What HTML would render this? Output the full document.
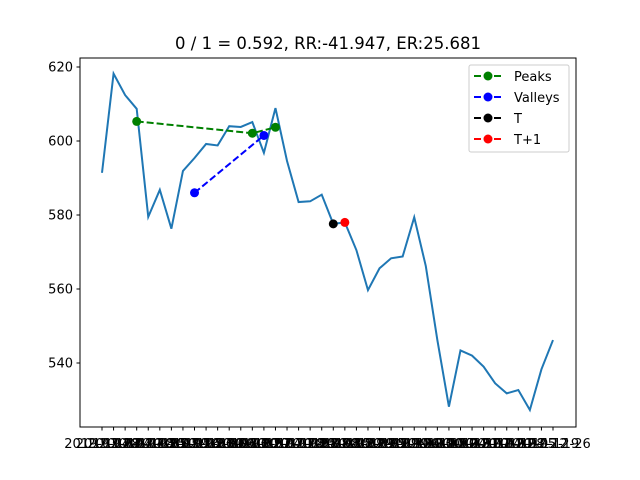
<!DOCTYPE html>
<html><head><meta charset="utf-8"><style>
html,body{margin:0;padding:0;background:#fff;}
svg{display:block;font-family:"DejaVu Sans","Liberation Sans",sans-serif;}
</style></head><body>
<svg id="chart" width="640" height="480" viewBox="0 0 640 480" xmlns="http://www.w3.org/2000/svg">
<text x="328" y="49" font-size="16.5" text-anchor="middle">0 / 1 = 0.592, RR:-41.947, ER:25.681</text>
<rect x="80" y="58" width="496" height="369" fill="none" stroke="#000" stroke-width="1"/>
<g id="yticks"></g>
<g id="xticks"></g>
<g id="series"></g>
<g>
<rect x="469" y="65" width="100" height="87" rx="2" fill="#fff" stroke="#ccc" stroke-width="1"/>
<g><line x1="474" y1="76" x2="502" y2="76" stroke="green" stroke-width="2" stroke-dasharray="7,3"/><circle cx="488" cy="76" r="4.5" fill="green"/><text x="514" y="81" font-size="13">Peaks</text></g>
<g><line x1="474" y1="97" x2="502" y2="97" stroke="blue" stroke-width="2" stroke-dasharray="7,3"/><circle cx="488" cy="97" r="4.5" fill="blue"/><text x="514" y="102" font-size="13">Valleys</text></g>
<g><line x1="474" y1="118" x2="502" y2="118" stroke="black" stroke-width="2" stroke-dasharray="7,3"/><circle cx="488" cy="118" r="4.5" fill="black"/><text x="514" y="123" font-size="13">T</text></g>
<g><line x1="474" y1="139" x2="502" y2="139" stroke="red" stroke-width="2" stroke-dasharray="7,3"/><circle cx="488" cy="139" r="4.5" fill="red"/><text x="514" y="144" font-size="13">T+1</text></g>
</g>
</svg>
<script>
const prices=[591.4,618.2,612.4,608.7,579.5,586.8,576.3,591.9,595.4,599.2,598.8,604.0,603.8,605.1,596.8,608.9,594.6,583.5,583.7,585.5,577.6,578.0,570.5,559.7,565.6,568.3,568.8,579.4,566.2,546.2,528.2,543.4,542.0,539.0,534.5,531.8,532.7,527.3,538.3,546.2];
const peakIdx=[3,13,15];
const peakVals=[605.3,602.1,603.7];
const valleyIdx=[8,14];
const valleyVals=[586.0,601.5];
const tIdx=[20];const tVals=[577.6];
const t1Idx=[21];const t1Vals=[578.0];
const yTicks=[540,560,580,600,620];
const start=new Date(Date.UTC(2019,2,28));
const dates=prices.map((_,i)=>{const d=new Date(start.getTime()+i*7*86400000);return d.toISOString().slice(0,10);});

const NS="http://www.w3.org/2000/svg";
const x=i=>102+i*(451/39);
const y=v=>67+(620-v)*3.7;
function mk(tag,attrs,parent){const e=document.createElementNS(NS,tag);for(const k in attrs)e.setAttribute(k,attrs[k]);parent.appendChild(e);return e;}
const yg=document.getElementById('yticks');
yTicks.forEach(v=>{
  const t=mk('line',{x1:76.5,x2:80,y1:y(v),y2:y(v),stroke:'#000'},yg);
  
  
  const l=mk('text',{x:73,y:y(v)+4.5,'font-size':13,'text-anchor':'end'},yg);
  l.textContent=v;
  
  
});
const xg=document.getElementById('xticks');
dates.forEach((d,i)=>{
  const t=mk('line',{x1:x(i),x2:x(i),y1:427,y2:430.5,stroke:'#000'},xg);
  
  
  const l=mk('text',{x:x(i),y:448,'font-size':13,'text-anchor':'middle'},xg);
  l.textContent=d;
  
  
});
const sg=document.getElementById('series');
const pl=mk('polyline',{points:prices.map((v,i)=>x(i)+','+y(v)).join(' '),fill:'none',stroke:'#1f77b4','stroke-width':2},sg);


function markers(idx,vals,color,name,dashed){
  if(dashed){const l=mk('polyline',{points:idx.map((ix,k)=>x(ix)+','+y(vals[k])).join(' '),fill:'none',stroke:color,'stroke-width':2,'stroke-dasharray':'7,3'},sg);
  
  }
  idx.forEach((ix,k)=>{const c=mk('circle',{cx:x(ix),cy:y(vals[k]),r:4.5,fill:color},sg);
  
  });
}
markers(peakIdx,peakVals,'green','peak',true);
markers(valleyIdx,valleyVals,'blue','valley',true);
markers(tIdx,tVals,'black','t',false);
markers(t1Idx,t1Vals,'red','t-plus-1',false);
</script>
</body></html>
